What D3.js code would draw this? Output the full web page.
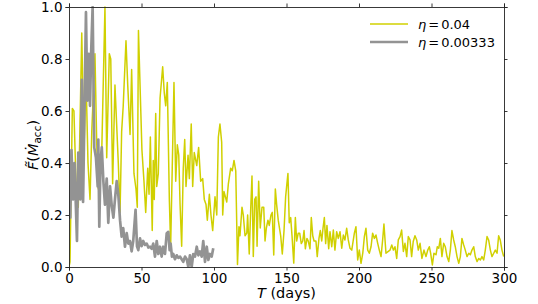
<!DOCTYPE html>
<html>
<head>
<meta charset="utf-8">
<script src="https://cdn.jsdelivr.net/npm/d3@7"></script>
<style>
  body { margin: 0; background: #fff; }
  text { font-family: "DejaVu Sans", sans-serif; }
</style>
</head>
<body>
<script>
// eta = 0.04 series
const yellowT = [0, 0.7, 2.3, 3.4, 4.8, 6.4, 7.6, 8.8, 10.3, 11.7, 13.1, 14.5, 15.7, 17.9, 19.1, 20.2, 22.6, 24.8, 26.0, 27.8, 28.8, 30.1, 31.7, 34.0, 35.2, 36.3, 37.4, 39.3, 40.5, 42.1, 43.2, 44.8, 46.2, 47.1, 47.9, 50.3, 51.7, 52.9, 54.3, 55.2, 56.1, 57.4, 58.1, 58.8, 59.8, 60.5, 61.6, 62.8, 64.6, 65.7, 66.7, 67.8, 69.2, 70.1, 71.2, 72.4, 73.6, 74.7, 75.7, 76.6, 77.7, 78.8, 79.8, 80.7, 82.1, 83.0, 84.3, 85.3, 86.4, 88.1, 89.4, 90.8, 92.2, 93.3, 94.5, 95.4, 96.8, 97.9, 99.1, 100.7, 101.9, 103.0, 104.1, 105.3, 106.0, 106.9, 108.8, 109.9, 111.5, 112.6, 113.8, 115.0, 116.2, 117.2, 117.9, 119.3, 120.2, 121.4, 122.6, 123.2, 124.3, 125.3, 126.2, 127.1, 128.1, 129.0, 129.7, 130.8, 131.9, 133.1, 134.3, 135.2, 136.1, 137.2, 138.1, 139.3, 140.2, 141.2, 142.3, 143.2, 144.3, 146.0, 147.1, 148.3, 149.4, 150.1, 151.0, 151.9, 152.9, 153.8, 155.0, 156.1, 157.0, 158.1, 159.1, 160.2, 161.2, 162.1, 163.0, 164.1, 165.0, 166.2, 167.1, 168.1, 169.0, 170.3, 171.2, 172.4, 173.3, 174.3, 175.2, 176.1, 177.0, 177.9, 179.1, 180.0, 181.2, 182.3, 183.4, 184.6, 185.7, 186.9, 188.1, 189.2, 190.3, 191.5, 192.6, 193.8, 195.0, 196.8, 197.9, 199.1, 200.2, 201.4, 202.6, 203.7, 204.8, 206.0, 207.1, 208.3, 209.4, 210.6, 211.7, 212.9, 214.0, 215.2, 216.3, 217.2, 218.6, 220.2, 221.4, 222.6, 223.7, 224.8, 226.0, 227.1, 228.3, 229.4, 230.6, 231.7, 232.9, 234.0, 235.2, 236.3, 237.4, 238.6, 239.8, 240.9, 242.1, 243.4, 244.8, 246.2, 247.4, 248.5, 249.4, 250.6, 251.7, 253.1, 254.0, 255.0, 256.1, 257.2, 258.4, 259.5, 260.7, 261.9, 263.0, 264.1, 265.3, 266.4, 267.6, 268.8, 269.9, 271.0, 272.2, 273.3, 274.5, 275.7, 276.8, 277.9, 279.1, 280.2, 281.4, 282.6, 283.7, 284.8, 286.0, 287.1, 288.3, 289.4, 290.6, 291.7, 292.9, 294.0, 295.2, 296.3, 297.4, 298.6, 299.8];
const yellowV = [0.0, 0.02, 0.61, 0.60, 0.33, 0.23, 0.55, 0.90, 0.44, 0.74, 0.40, 0.26, 0.52, 0.82, 0.48, 0.30, 0.45, 1.0, 0.42, 0.82, 0.80, 0.32, 0.70, 0.40, 0.21, 0.52, 0.62, 0.87, 0.70, 0.51, 0.76, 0.36, 0.30, 0.23, 0.91, 0.45, 0.33, 0.21, 0.38, 0.28, 0.50, 0.14, 0.41, 0.26, 0.59, 0.31, 0.36, 0.65, 0.77, 0.67, 0.62, 0.71, 0.26, 0.08, 0.38, 0.71, 0.33, 0.47, 0.43, 0.24, 0.08, 0.38, 0.49, 0.31, 0.43, 0.34, 0.55, 0.31, 0.44, 0.39, 0.46, 0.33, 0.34, 0.26, 0.24, 0.18, 0.28, 0.20, 0.14, 0.27, 0.20, 0.50, 0.55, 0.48, 0.20, 0.29, 0.25, 0.32, 0.38, 0.37, 0.41, 0.37, 0.01, 0.155, 0.12, 0.23, 0.20, 0.12, 0.13, 0.20, 0.05, 0.22, 0.35, 0.04, 0.26, 0.27, 0.08, 0.33, 0.15, 0.23, 0.23, 0.10, 0.15, 0.18, 0.16, 0.20, 0.21, 0.046, 0.30, 0.24, 0.18, 0.12, 0.05, 0.14, 0.27, 0.31, 0.36, 0.17, 0.19, 0.12, 0.015, 0.19, 0.10, 0.13, 0.13, 0.09, 0.10, 0.14, 0.07, 0.11, 0.10, 0.07, 0.19, 0.12, 0.10, 0.10, 0.04, 0.11, 0.14, 0.10, 0.15, 0.19, 0.09, 0.16, 0.07, 0.136, 0.078, 0.142, 0.065, 0.136, 0.11, 0.136, 0.072, 0.123, 0.104, 0.149, 0.104, 0.072, 0.065, 0.13, 0.155, 0.027, 0.065, 0.014, 0.053, 0.117, 0.149, 0.065, 0.053, 0.078, 0.13, 0.11, 0.123, 0.091, 0.065, 0.04, 0.104, 0.165, 0.053, 0.06, 0.065, 0.085, 0.065, 0.078, 0.033, 0.104, 0.117, 0.142, 0.06, 0.091, 0.04, 0.117, 0.104, 0.04, 0.098, 0.12, 0.104, 0.065, 0.091, 0.033, 0.065, 0.04, 0.065, 0.078, 0.053, 0.008, 0.053, 0.047, 0.078, 0.072, 0.11, 0.04, 0.091, 0.078, 0.04, 0.021, 0.065, 0.14, 0.104, 0.078, 0.04, 0.014, 0.04, 0.11, 0.085, 0.065, 0.04, 0.053, 0.047, 0.065, 0.078, 0.04, 0.021, 0.033, 0.027, 0.04, 0.027, 0.065, 0.117, 0.104, 0.065, 0.04, 0.053, 0.065, 0.053, 0.12, 0.104, 0.065, 0.04];

// eta = 0.00333 series
const greyT = [0, 0.9, 1.7, 2.8, 3.8, 5.5, 6.4, 7.2, 7.8, 8.8, 9.7, 10.6, 11.7, 12.6, 13.6, 14.5, 15.2, 16.3, 17.4, 18.6, 19.8, 20.2, 20.9, 21.7, 22.6, 23.7, 24.8, 26.0, 27.1, 28.3, 29.4, 30.6, 31.7, 32.9, 34.0, 35.2, 36.3, 37.4, 38.6, 39.8, 40.9, 42.1, 43.2, 44.3, 45.9, 46.9, 47.8, 49.0, 50.1, 51.2, 52.4, 53.6, 54.7, 55.9, 57.0, 58.1, 59.3, 60.5, 61.6, 62.8, 63.9, 65.0, 66.2, 67.4, 68.5, 69.4, 70.1, 71.0, 71.9, 73.1, 74.3, 75.4, 76.6, 77.7, 78.8, 80.0, 81.2, 82.3, 83.4, 84.6, 85.7, 86.9, 88.1, 89.2, 90.3, 91.5, 92.6, 93.8, 95.0, 96.1, 97.2, 98.4, 99.5];
const greyV = [0.23, 0.19, 0.45, 0.26, 0.40, 0.10, 0.44, 0.30, 0.26, 0.72, 0.25, 0.58, 0.98, 0.64, 0.82, 0.62, 0.81, 1.0, 0.46, 0.42, 0.31, 0.49, 0.155, 0.40, 0.46, 0.33, 0.24, 0.34, 0.17, 0.31, 0.24, 0.19, 0.26, 0.33, 0.28, 0.18, 0.117, 0.15, 0.078, 0.13, 0.09, 0.10, 0.06, 0.10, 0.22, 0.08, 0.065, 0.11, 0.08, 0.10, 0.085, 0.09, 0.075, 0.078, 0.07, 0.09, 0.04, 0.10, 0.05, 0.078, 0.04, 0.078, 0.05, 0.13, 0.135, 0.065, 0.09, 0.04, 0.05, 0.03, 0.045, 0.035, 0.04, 0.03, 0.02, 0.04, 0.03, 0.0, 0.045, 0.0, 0.05, 0.04, 0.078, 0.045, 0.06, 0.04, 0.10, 0.02, 0.078, 0.027, 0.05, 0.04, 0.072];

const xTicks = [0, 50, 100, 150, 200, 250, 300];
const yTicks = [0.0, 0.2, 0.4, 0.6, 0.8, 1.0];
const legendLabels = ["0.04", "0.00333"];

const width = 538;
const height = 304;
const margin = { left: 69, right: 34, top: 7, bottom: 37 };

const svg = d3.select("body")
  .append("svg")
  .attr("width", width)
  .attr("height", height);

const x = d3.scaleLinear().domain([0, 300]).range([margin.left, width - margin.right]);
const y = d3.scaleLinear().domain([0, 1]).range([height - margin.bottom, margin.top]);

svg.append("defs").append("clipPath")
  .attr("id", "plot-clip")
  .append("rect")
  .attr("x", x(0))
  .attr("y", y(1) - 1)
  .attr("width", x(300) - x(0))
  .attr("height", y(0) - y(1) + 1);

const line = d3.line()
  .x(d => x(d[0]))
  .y(d => y(d[1]));

const yellowData = yellowT.map((t, i) => [t, yellowV[i]]);
const greyData = greyT.map((t, i) => [t, greyV[i]]);

const lines = svg.append("g").attr("clip-path", "url(#plot-clip)");

lines.append("path")
  .datum(yellowData)
  .attr("fill", "none")
  .attr("stroke", "#d0d000")
  .attr("stroke-width", 1.5)
  .attr("stroke-linejoin", "round")
  .attr("d", line);

lines.append("path")
  .datum(greyData)
  .attr("fill", "none")
  .attr("stroke", "#939393")
  .attr("stroke-width", 2.7)
  .attr("stroke-linejoin", "round")
  .attr("d", line);

// axes, ticks on all four sides
const tickFmt = d3.format(".1f");

svg.append("g")
  .attr("transform", `translate(0, ${y(0)})`)
  .call(d3.axisBottom(x).tickValues(xTicks).tickSize(3.5).tickPadding(3))
  .call(g => g.selectAll("text").attr("font-size", 13.5).attr("fill", "#000"));

svg.append("g")
  .attr("transform", `translate(0, ${y(1)})`)
  .call(d3.axisTop(x).tickValues(xTicks).tickSize(3.5).tickFormat(""));

svg.append("g")
  .attr("transform", `translate(${x(0)}, 0)`)
  .call(d3.axisLeft(y).tickValues(yTicks).tickSize(3.5).tickPadding(3).tickFormat(tickFmt))
  .call(g => g.selectAll("text").attr("font-size", 13.5).attr("fill", "#000"));

svg.append("g")
  .attr("transform", `translate(${x(300)}, 0)`)
  .call(d3.axisRight(y).tickValues(yTicks).tickSize(3.5).tickFormat(""));

svg.selectAll(".domain").attr("stroke", "#222").attr("stroke-width", 0.9);
svg.selectAll(".tick line").attr("stroke", "#222").attr("stroke-width", 0.9);

// axis labels
const xLabel = svg.append("text")
  .attr("x", (x(0) + x(300)) / 2)
  .attr("y", 298)
  .attr("text-anchor", "middle")
  .attr("font-size", 14.5);
xLabel.append("tspan").attr("font-style", "italic").text("T");
xLabel.append("tspan").text(" (days)");

const yLabel = svg.append("text")
  .attr("transform", `translate(38, ${(y(0) + y(1)) / 2 + 8}) rotate(-90)`)
  .attr("text-anchor", "middle")
  .attr("font-size", 14.5);
yLabel.append("tspan").attr("font-style", "italic").text("F\u0303");
yLabel.append("tspan").text("(");
yLabel.append("tspan").attr("font-style", "italic").text("\u1E40");
yLabel.append("tspan").attr("font-size", 10.5).attr("dy", 3).text("acc");
yLabel.append("tspan").attr("dy", -3).text(")");

// legend
const legendColors = ["#d0d000", "#939393"];
const legendWidths = [1.5, 2.7];
const legend = svg.append("g").attr("transform", "translate(370, 24)");
legendLabels.forEach((lab, i) => {
  const row = legend.append("g").attr("transform", `translate(0, ${i * 18})`);
  row.append("line")
    .attr("x1", 0).attr("x2", 38)
    .attr("stroke", legendColors[i])
    .attr("stroke-width", legendWidths[i]);
  const t = row.append("text")
    .attr("x", 48)
    .attr("y", 4.5)
    .attr("font-size", 13);
  t.append("tspan").attr("font-style", "italic").text("\u03B7");
  t.append("tspan").attr("dx", 2).text("=");
  t.append("tspan").attr("dx", 2).text(lab);
});
</script>
</body>
</html>
